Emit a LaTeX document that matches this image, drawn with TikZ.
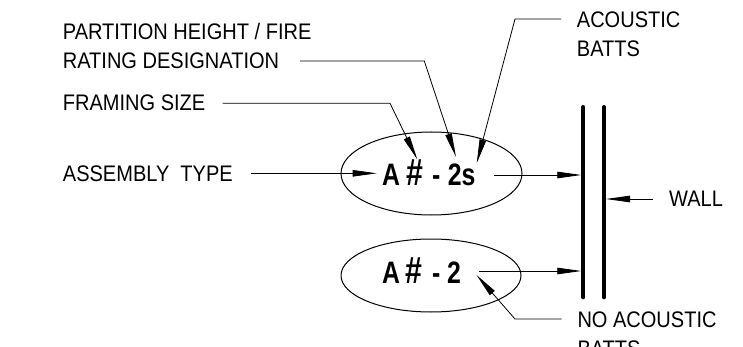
\documentclass[tikz,border=0pt]{standalone}
\usepackage{fontspec}
\usepackage{graphicx}
\setmainfont{Liberation Sans}[FakeStretch=0.89]
\newfontfamily\tagfont{Liberation Sans}[FakeStretch=0.8]
\usetikzlibrary{arrows.meta,shapes.geometric}
\newcommand{\tagchar}[2]{\makebox[#1][l]{#2}}
\newcommand{\bighash}{\scalebox{1.22}{\#}}
\tikzset{
  lab/.style={anchor=base west, inner sep=0pt, font=\fontsize{22.5}{22.5}\selectfont},
  tag/.style={anchor=base west, inner sep=0pt, font=\tagfont\bfseries\fontsize{31}{31}\selectfont},
  oval/.style={draw, ellipse, line width=1pt, inner sep=0pt},
  lead/.style={line width=0.8pt, -{Triangle[length=24pt,width=6.5pt]}},
  wallline/.style={line width=4pt, line cap=round}
}
\begin{document}
\begin{tikzpicture}[x=1pt,y=-1pt]
\useasboundingbox (0,0) rectangle (743,347);
\clip (0,0) rectangle (743,347);
% labels
\node[lab] (ph) at (62.7,39.5) {PARTITION HEIGHT / FIRE};
\node[lab] (rd) at (62.7,68.3) {RATING DESIGNATION};
\node[lab] (fs) at (62.7,111) {FRAMING SIZE};
\node[lab] (at) at (62.7,181.5) {ASSEMBLY\ \ TYPE};
\node[lab] (ac) at (576.7,27.3) {ACOUSTIC};
\node[lab] (ab) at (576.7,56.7) {BATTS};
\node[lab] (wl) at (669,207) {WALL};
\node[lab] (nac) at (577.3,327.3) {NO ACOUSTIC};
\node[lab] (nab) at (577.3,356.7) {BATTS};
% ellipses
\node[oval, minimum width=181pt, minimum height=83pt] (e1) at (431.5,173.5) {};
\node[oval, minimum width=180pt, minimum height=73pt] (e2) at (431,275.5) {};
\node[tag] (t1) at (382,186) {\tagchar{24.4pt}{A}\tagchar{25.6pt}{\bighash}\tagchar{15.7pt}{-}2s};
\node[tag] (t2) at (382,283.3) {\tagchar{23.4pt}{A}\tagchar{26.6pt}{\bighash}\tagchar{15pt}{-}2};
% wall
\coordinate (w1t) at (583.3,107);
\coordinate (w1b) at (583.3,297.3);
\coordinate (w2t) at (604,107);
\coordinate (w2b) at (604,297.3);
\draw[wallline] (w1t) -- (w1b);
\draw[wallline] (w2t) -- (w2b);
% leader points
\coordinate (rdS) at (300,61);
\coordinate (rdB) at (424.3,61);
\coordinate (rdT) at (456,157);
\coordinate (fsS) at (222.7,103.3);
\coordinate (fsB) at (390,103.3);
\coordinate (fsT) at (417.3,159.5);
\coordinate (abS) at (561,19);
\coordinate (abB) at (515,19);
\coordinate (abT) at (476.7,163.3);
\coordinate (atS) at (251,173.3);
\coordinate (atT) at (376.7,173.3);
\coordinate (e1S) at (494,175);
\coordinate (e1T) at (581.3,175);
\coordinate (e2S) at (479,271);
\coordinate (e2T) at (581.3,271);
\coordinate (wlS) at (653,199);
\coordinate (wlT) at (606,199);
\coordinate (naS) at (561.7,319);
\coordinate (naB) at (515,319);
\coordinate (naT) at (476.5,275);
% leaders
\draw[lead] (rdS) -- (rdB) -- (rdT);
\draw[lead] (fsS) -- (fsB) -- (fsT);
\draw[lead] (abS) -- (abB) -- (abT);
\draw[lead] (atS) -- (atT);
\draw[lead] (e1S) -- (e1T);
\draw[lead] (e2S) -- (e2T);
\draw[lead] (wlS) -- (wlT);
\draw[lead] (naS) -- (naB) -- (naT);
\end{tikzpicture}
\end{document}
